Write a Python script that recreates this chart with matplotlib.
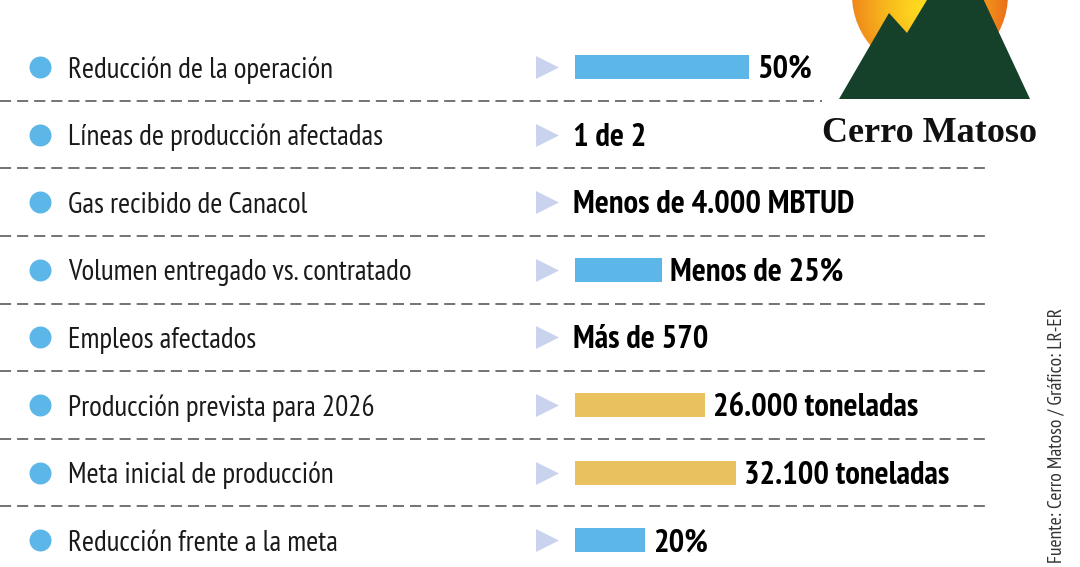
import numpy as np
import matplotlib
matplotlib.use('Agg')
import matplotlib.pyplot as plt
from matplotlib import font_manager as fm
from matplotlib.patches import Circle, Polygon

# --- data ---
labels = ['Reducción de la operación', 'Líneas de producción afectadas',
          'Gas recibido de Canacol', 'Volumen entregado vs. contratado',
          'Empleos afectados', 'Producción prevista para 2026',
          'Meta inicial de producción', 'Reducción frente a la meta']
value_text = ['50%', '1 de 2', 'Menos de 4.000 MBTUD', 'Menos de 25%',
              'Más de 570', '26.000 toneladas', '32.100 toneladas', '20%']
pct_rows = [0, 3, 7]
pct_vals = [50, 25, 20]
ton_rows = [5, 6]
ton_vals = [26000, 32100]

BLUE = '#5db6e8'
GOLD = '#e9c15e'
TRI = '#c9d3ee'
plt.rcParams['lines.scale_dashes'] = False

avail = {f.name for f in fm.fontManager.ttflist}


def pick(prefs, last):
    for p in prefs:
        if p in avail:
            return [p, last]
    return [last]


SANS = pick(['PT Sans Narrow', 'Fira Sans Condensed', 'Roboto Condensed',
             'Archivo Narrow', 'Liberation Sans Narrow', 'IBM Plex Sans Condensed',
             'Open Sans Condensed'], 'DejaVu Sans')
SERIF = pick(['Noto Serif Condensed', 'Noto Serif SemiCondensed',
              'Roboto Serif Condensed', 'Libre Caslon Condensed',
              'Liberation Serif'], 'DejaVu Serif')

W, H = 1080, 567
row_px = 67.6
first = 67
bar_x0 = 575

fig = plt.figure(figsize=(10.8, 5.67), dpi=100)
renderer = fig.canvas.get_renderer()


def fit(t, width):
    # scale font so the text spans the width measured on the reference
    w = t.get_window_extent(renderer).width
    t.set_fontsize(t.get_fontsize() * width / w)


ax = fig.add_axes([0, 0, 1, 1])
ax.set_xlim(0, W)
ax.set_ylim((H - first) / row_px, -first / row_px)
ax.axis('off')

rows = np.arange(len(labels))
ax.scatter(np.full(len(rows), 40), rows, s=250, color=BLUE, lw=0)
ax.scatter(np.full(len(rows), 547), rows, marker='>', s=16.5 ** 2, color=TRI, lw=0)

for i in range(len(rows) - 1):
    end = 822 if i == 0 else 988
    ax.plot([0, end], [i + 0.5, i + 0.5], color='#4d4d4d', lw=1.1,
            dashes=(8, 4.3))

lab_texts = []
for r, lab in zip(rows, labels):
    lab_texts.append(ax.annotate(lab, (68, r), xytext=(0, -7.6),
                                 textcoords='offset points', va='baseline',
                                 ha='left', fontsize=19.5, family=SANS,
                                 color='#1a1a1a'))
fit(lab_texts[0], 265)
for t in lab_texts[1:]:
    t.set_fontsize(lab_texts[0].get_fontsize())

# bars on their own x scales
ax_p = ax.twiny()
ax_p.set_xlim(-bar_x0 / 3.48, (W - bar_x0) / 3.48)
ax_p.barh(pct_rows, pct_vals, height=0.355, color=BLUE)
ax_p.axis('off')

ax_t = ax.twiny()
ax_t.set_xlim(-bar_x0 / 0.005, (W - bar_x0) / 0.005)
ax_t.barh(ton_rows, ton_vals, height=0.355, color=GOLD)
ax_t.axis('off')

anchors = {r: (ax_p, v) for r, v in zip(pct_rows, pct_vals)}
anchors.update({r: (ax_t, v) for r, v in zip(ton_rows, ton_vals)})
val_texts = []
for r, txt in zip(rows, value_text):
    if r in anchors:
        a, v = anchors[r]
        dx = 5.8
    else:
        a, v, dx = ax, 573, 0
    val_texts.append(a.annotate(txt, (v, r), xytext=(dx, -7.9),
                                textcoords='offset points', va='baseline',
                                ha='left', fontsize=22, fontweight='bold',
                                family=SANS, color='black'))
fit(val_texts[2], 280)
for t in val_texts:
    t.set_fontsize(val_texts[2].get_fontsize())

# logo
lax = fig.add_axes([0, 0, 1, 1])
lax.axis('off')

yy, xx = np.mgrid[-90:80, 845:1015]
tt = np.clip(np.hypot(xx - 922, yy - 8) / 85, 0, 1) ** 1.3
yel = np.array([1.0, 0.86, 0.12])
ora = np.array([0.92, 0.44, 0.10])
img = yel * (1 - tt[..., None]) + ora * tt[..., None]
sun = Circle((930, -5), 78, fc='none', ec='none')
lax.add_patch(sun)
im = lax.imshow(img, extent=(845, 1015, 80, -90), origin='upper',
                interpolation='bilinear')
im.set_clip_path(sun)
lax.add_patch(Polygon([(839, 99), (889, 13), (907, 33), (959, -53), (1030, 99)],
                      closed=True, fc='#15402a', ec='none'))
lax.set_xlim(0, W)
lax.set_ylim(H, 0)
logo_t = lax.text(930, 142, 'Cerro Matoso', ha='center', va='baseline',
                  fontsize=29.5, fontweight='bold', family=SERIF,
                  color='#111111')
fit(logo_t, 215)

lax.text(1056, 563, 'Fuente: Cerro Matoso / Gráfico: LR-ER', rotation=90,
         ha='center', va='bottom', fontsize=14, family=SANS, color='#333333')

fig.savefig('out.png', dpi=100)
